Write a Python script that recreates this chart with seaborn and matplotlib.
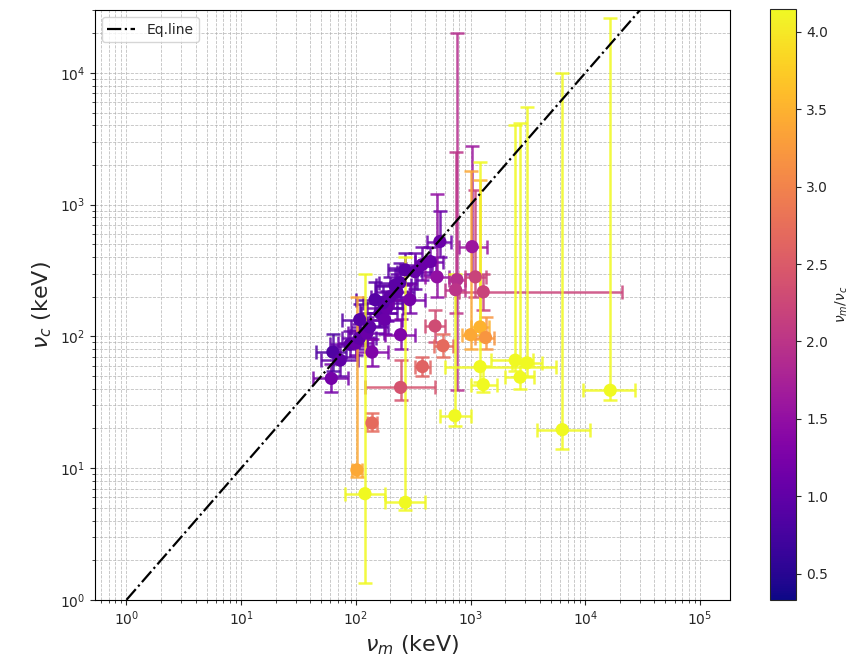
import numpy as np
import pandas as pd
import matplotlib
matplotlib.use("Agg")
import matplotlib.pyplot as plt
import seaborn as sns

# peak energies (keV)
nu_m = [61, 63, 89, 100, 107, 125, 132, 162, 186, 172, 198, 228, 242, 327, 377, 540,
        73, 108, 147, 219, 268, 445, 295, 178,
        138, 245, 510, 1030, 760, 740, 1100, 1290, 490, 575, 380, 245, 138, 102,
        1000, 1210, 1350,
        120, 270, 730, 1210, 1290, 2700, 3100, 2450, 6300, 16500]
nu_c = [48, 76, 87, 89, 97, 106, 118, 151, 165, 180, 200, 218, 256, 310, 350, 525,
        66, 134, 190, 245, 320, 370, 190, 134,
        76, 103, 283, 480, 270, 226, 283, 218, 120, 85, 59, 41, 22, 9.7,
        103, 118, 98,
        6.4, 5.5, 25, 59, 43, 49, 63, 66, 19.6, 39]
ratio = [1.2, 0.85, 1.0, 1.1, 1.0, 1.1, 1.0, 1.0, 1.1, 0.95, 1.0, 1.0, 0.95, 1.05, 1.1, 1.1,
         1.0, 0.9, 0.9, 0.95, 0.95, 1.1, 1.2, 1.1,
         1.3, 1.3, 1.5, 1.6, 1.9, 2.0, 2.2, 2.2, 2.3, 2.7, 2.6, 2.4, 2.7, 3.4,
         3.4, 3.5, 3.2,
         4.15, 4.15, 4.15, 4.15, 4.15, 4.15, 4.15, 4.15, 4.15, 4.15]

# error ranges (lower / upper bounds)
nu_m_lo = [42, 45, 60, 70, 75, 85, 90, 110, 125, 115, 135, 150, 160, 230, 270, 420,
           50, 75, 100, 150, 190, 330, 210, 120,
           100, 180, 400, 800, 650, 600, 900, 800, 400, 480, 330, 120, 125, 92,
           850, 1000, 1100,
           80, 180, 540, 600, 1000, 2000, 2300, 1500, 3800, 9500]
nu_m_hi = [85, 82, 125, 140, 150, 175, 190, 230, 260, 250, 280, 320, 340, 460, 500, 680,
           105, 160, 210, 300, 370, 580, 400, 250,
           190, 330, 650, 1400, 900, 900, 1350, 21000, 600, 700, 440, 490, 152, 112,
           1200, 1450, 1600,
           180, 400, 1000, 5500, 1700, 3600, 4200, 3500, 11000, 27000]
nu_c_lo = [38, 55, 70, 72, 80, 85, 95, 120, 130, 140, 150, 165, 190, 230, 270, 400,
           50, 100, 150, 190, 250, 290, 150, 105,
           60, 80, 200, 300, 39, 150, 200, 160, 90, 70, 50, 33, 19, 8.5,
           80, 95, 80,
           1.35, 4.8, 21, 45, 38, 40, 50, 55, 14, 33]
nu_c_hi = [62, 105, 110, 112, 125, 140, 150, 200, 220, 240, 280, 300, 360, 430, 480, 900,
           85, 175, 260, 330, 430, 480, 250, 175,
           95, 135, 1200, 2800, 20000, 2500, 1300, 300, 160, 105, 70, 66, 26, 200,
           1800, 1530, 140,
           300, 400, 300, 2100, 60, 4200, 5500, 4000, 10000, 26000]

eq_x = [1, 1e5]

df = pd.DataFrame({"nu_m": nu_m, "nu_c": nu_c, "ratio": ratio,
                   "m_lo": nu_m_lo, "m_hi": nu_m_hi, "c_lo": nu_c_lo, "c_hi": nu_c_hi})

sns.set_style("white")
plt.rcParams["font.family"] = ["DejaVu Sans"]

cmap = plt.get_cmap("plasma")
norm = plt.Normalize(vmin=0.33, vmax=4.15)

fig = plt.figure(figsize=(8.62, 6.71), dpi=100)
ax = fig.add_axes([0.110, 0.106, 0.737, 0.879])
cax = fig.add_axes([0.893, 0.106, 0.031, 0.881])

for _, r in df.iterrows():
    col = cmap(norm(r["ratio"]))
    ax.errorbar(r["nu_m"], r["nu_c"],
                xerr=[[r["nu_m"] - r["m_lo"]], [r["m_hi"] - r["nu_m"]]],
                yerr=[[r["nu_c"] - r["c_lo"]], [r["c_hi"] - r["nu_c"]]],
                fmt="none", ecolor=col, elinewidth=1.8, capsize=5, capthick=1.8,
                alpha=0.85, zorder=2)

sns.scatterplot(data=df, x="nu_m", y="nu_c", hue="ratio", palette="plasma",
                hue_norm=norm, s=90, edgecolor="none", legend=False, ax=ax, zorder=3)

ax.plot(eq_x, eq_x, color="black", ls="-.", lw=1.6, label="Eq.line", zorder=4)

ax.set_xscale("log")
ax.set_yscale("log")
ax.set_xlim(0.53, 1.83e5)
ax.set_ylim(1, 3e4)
ax.grid(True, which="both", ls="--", lw=0.6, color="#b0b0b0", alpha=0.8)
ax.tick_params(which="both", direction="out", bottom=True, left=True)
for s in ax.spines.values():
    s.set_color("black")
ax.set_xlabel(r"$\nu_m$ (keV)", fontsize=16)
ax.set_ylabel(r"$\nu_c$ (keV)", fontsize=16)
ax.legend(loc="upper left", fontsize=10)

sm = plt.cm.ScalarMappable(cmap=cmap, norm=norm)
cb = fig.colorbar(sm, cax=cax)
cb.set_label(r"$\nu_m/\nu_c$", fontsize=10)
cb.set_ticks([0.5, 1.0, 1.5, 2.0, 2.5, 3.0, 3.5, 4.0])

fig.savefig("out.png", dpi=100)
